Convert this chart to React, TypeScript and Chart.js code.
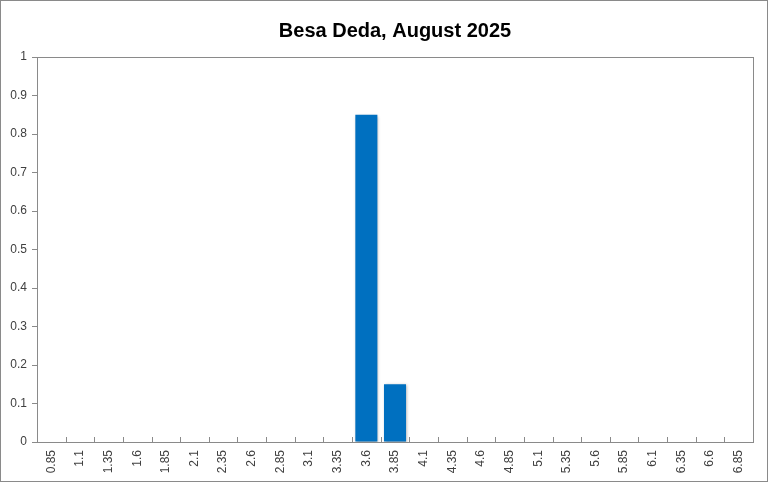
import { useEffect, useRef } from 'react';
import { Chart, registerables } from 'chart.js';

Chart.register(...registerables);

// x categories (bin centres) and the share in each bin
const categories = [
  '0.85', '1.1', '1.35', '1.6', '1.85', '2.1', '2.35', '2.6', '2.85', '3.1',
  '3.35', '3.6', '3.85', '4.1', '4.35', '4.6', '4.85', '5.1', '5.35', '5.6',
  '5.85', '6.1', '6.35', '6.6', '6.85',
];
const shares = [
  0, 0, 0, 0, 0, 0, 0, 0, 0, 0,
  0, 0.85, 0.15, 0, 0, 0, 0, 0, 0, 0,
  0, 0, 0, 0, 0,
];
const titleText = 'Besa Deda, August 2025';

const axisGray = '#8a8a8a';

// frame round the canvas, box round the plot, inward ticks on the x axis
const framePlugin = {
  id: 'frame',
  beforeDatasetsDraw(chart: any) {
    const ctx = chart.ctx;
    ctx.save();
    ctx.shadowColor = 'rgba(0,0,0,0.35)';
    ctx.shadowBlur = 3;
    ctx.shadowOffsetX = 1;
    ctx.shadowOffsetY = 1;
  },
  afterDatasetsDraw(chart: any) {
    chart.ctx.restore();
  },
  afterDraw(chart: any) {
    const { ctx, chartArea, width, height } = chart;
    const x = chart.scales.x;
    ctx.save();
    ctx.strokeStyle = axisGray;
    ctx.lineWidth = 1;
    ctx.strokeRect(0.5, 0.5, width - 2, height - 2);
    ctx.strokeRect(
      Math.round(chartArea.left) + 0.5,
      Math.round(chartArea.top) + 0.5,
      Math.round(chartArea.right - chartArea.left),
      Math.round(chartArea.bottom - chartArea.top)
    );
    ctx.beginPath();
    for (let i = 1; i < categories.length; i++) {
      const px = Math.round(x.getPixelForValue(i - 0.5)) + 0.5;
      ctx.moveTo(px, chartArea.bottom);
      ctx.lineTo(px, chartArea.bottom - 5);
    }
    ctx.stroke();
    ctx.restore();
  },
};

export default function App() {
  const chartRef = useRef<HTMLCanvasElement>(null);

  useEffect(() => {
    document.body.style.margin = '0';
    if (!chartRef.current) return;
    const chart = new Chart(chartRef.current, {
      type: 'bar',
      data: {
        labels: categories,
        datasets: [{
          data: shares,
          backgroundColor: '#0070C0',
          borderWidth: 0,
          categoryPercentage: 1,
          barPercentage: 0.77,
        }],
      },
      options: {
        responsive: false,
        animation: false,
        devicePixelRatio: 1,
        layout: { padding: { left: 8, right: 16, top: 0, bottom: 0 } },
        plugins: {
          legend: { display: false },
          tooltip: { enabled: false },
          title: {
            display: true,
            text: titleText,
            fullSize: false,
            color: '#000',
            font: { family: 'Liberation Sans', size: 20, weight: 'bold', lineHeight: 1.2 },
            padding: { top: 19, bottom: 14 },
          },
        },
        scales: {
          x: {
            grid: { drawOnChartArea: false, drawTicks: false },
            border: { display: true, color: axisGray },
            ticks: {
              minRotation: 90,
              maxRotation: 90,
              autoSkip: false,
              padding: 8,
              color: '#404040',
              font: { family: 'Liberation Sans', size: 12 },
            },
            afterFit: (s: any) => { s.height = 41; },
          },
          y: {
            min: 0,
            max: 1,
            grid: { drawOnChartArea: false, drawTicks: true, tickLength: 5, color: axisGray },
            border: { display: true, color: axisGray },
            ticks: {
              stepSize: 0.1,
              padding: 5,
              color: '#404040',
              font: { family: 'Liberation Sans', size: 12 },
              callback: (v: any) => String(Math.round(Number(v) * 10) / 10),
            },
            afterFit: (s: any) => { s.width = 29; },
          },
        },
      },
      plugins: [framePlugin],
    });
    return () => chart.destroy();
  }, []);

  return <canvas ref={chartRef} width={769} height={483} style={{ display: 'block' }} />;
}
